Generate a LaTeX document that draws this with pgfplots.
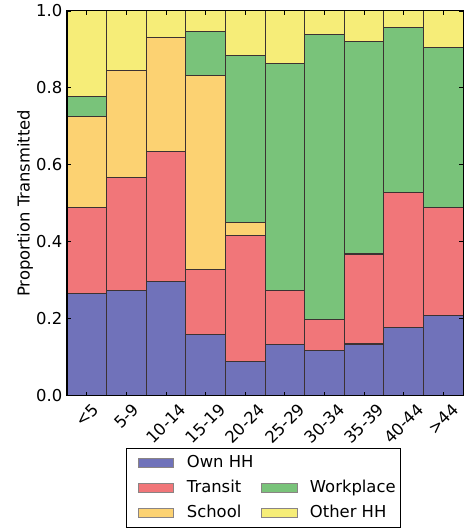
\documentclass[border=0pt]{standalone}
\usepackage{fontspec}
\setmainfont{DejaVu Sans}
\usepackage{pgfplots}
\pgfplotsset{compat=1.18}
\usepackage{pgfplotstable}
\definecolor{cown}{RGB}{112,114,186}
\definecolor{ctransit}{RGB}{241,118,121}
\definecolor{cschool}{RGB}{252,210,114}
\definecolor{cwork}{RGB}{121,195,122}
\definecolor{cother}{RGB}{246,237,120}
\definecolor{cedge}{RGB}{60,50,50}
\pgfplotstableread{
x own transit school work other
0 0.266 0.224 0.236 0.052 0.222
1 0.274 0.292 0.278 0.000 0.156
2 0.297 0.338 0.297 0.000 0.068
3 0.159 0.169 0.503 0.116 0.053
4 0.088 0.328 0.033 0.436 0.115
5 0.133 0.140 0.000 0.591 0.136
6 0.116 0.081 0.000 0.742 0.061
7 0.134 0.234 0.000 0.552 0.080
8 0.176 0.351 0.000 0.429 0.044
9 0.208 0.282 0.000 0.416 0.094
}\datatable
\pgfplotsset{
  legA/.style={legend image code/.code={\path[draw=none, fill=none] (0pt,-3.4pt) rectangle (7.9pt,3.4pt); \draw[fill=#1, draw=cedge!60, line width=0.6pt] (7.9pt,-3.4pt) rectangle (34.15pt,3.4pt);}},
  legB/.style={legend image code/.code={\draw[fill=#1, draw=cedge!60, line width=0.6pt] (0pt,-3.4pt) rectangle (26.25pt,3.4pt);}},
  legE/.style={legend image code/.code={}},
}
\begin{document}
\begin{tikzpicture}[font=\fontsize{12.3pt}{14.8pt}\selectfont]
\begin{axis}[
  name=ax, at={(0,0)}, anchor=south west,
  scale only axis, width=297pt, height=288.4pt,
  ybar stacked, bar width=1,
  xmin=-0.5, xmax=9.5, ymin=0, ymax=1,
  xtick={0,1,2,3,4,5,6,7,8,9},
  xticklabels={{\rotatebox{45}{<5}},{\rotatebox{45}{5-9}},{\rotatebox{45}{10-14}},{\rotatebox{45}{15-19}},{\rotatebox{45}{20-24}},{\rotatebox{45}{25-29}},{\rotatebox{45}{30-34}},{\rotatebox{45}{35-39}},{\rotatebox{45}{40-44}},{\rotatebox{45}{>44}}},
  xticklabel style={anchor=north, yshift=-1.5pt},
  ytick={0,0.2,0.4,0.6,0.8,1.0},
  yticklabel style={/pgf/number format/.cd, fixed, fixed zerofill, precision=1},
  /pgf/number format/assume math mode=true,
  tick align=inside, tick pos=both, major tick length=3pt,
  tick style={black, line width=0.6pt},
  axis line style={black, line width=0.8pt},
  axis on top,
  ylabel={Proportion Transmitted},
  ylabel style={at={(axis description cs:-0.106,0.5)}, anchor=center},
  legend columns=2,
  legend cell align=left,
  legend style={at={(0.149,-0.1365)}, anchor=north west, draw=black, line width=0.8pt,
    inner xsep=1.3pt, inner ysep=3pt,
    nodes={inner xsep=2pt, inner ysep=2pt, text height=9pt, text depth=2.5pt},
    row sep=3.25pt,
    /tikz/every odd column/.append style={column sep=7.5pt},
    /tikz/every even column/.append style={column sep=4pt}},
]
\addlegendimage{legA=cown}\addlegendentry{Own HH}
\addlegendimage{legE}\addlegendentry{}
\addlegendimage{legA=ctransit}\addlegendentry{Transit}
\addlegendimage{legB=cwork}\addlegendentry{Workplace}
\addlegendimage{legA=cschool}\addlegendentry{School}
\addlegendimage{legB=cother}\addlegendentry{Other HH}
\addplot[fill=cown, draw=cedge, line width=0.8pt] table[x=x, y=own] {\datatable};
\addplot[fill=ctransit, draw=cedge, line width=0.8pt] table[x=x, y=transit] {\datatable};
\addplot[fill=cschool, draw=cedge, line width=0.8pt] table[x=x, y=school] {\datatable};
\addplot[fill=cwork, draw=cedge, line width=0.8pt] table[x=x, y=work] {\datatable};
\addplot[fill=cother, draw=cedge, line width=0.8pt] table[x=x, y=other] {\datatable};
\end{axis}
\pgfresetboundingbox
\useasboundingbox (-50.25pt,-101.6pt) rectangle (297.75pt,296.6pt);
\end{tikzpicture}
\end{document}
